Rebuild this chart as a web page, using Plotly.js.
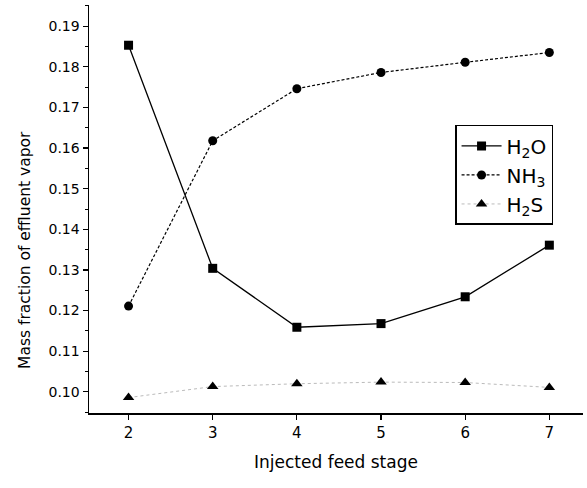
<!DOCTYPE html>
<html>
<head>
<meta charset="utf-8">
<script src="https://cdn.plot.ly/plotly-3.0.1.min.js"></script>
<style>html,body{margin:0;padding:0;background:#fff;}#chart{width:587px;height:488px;}</style>
</head>
<body>
<div id="chart"></div>
<script>
const stages = [2, 3, 4, 5, 6, 7];
const h2o = [0.1853, 0.1304, 0.1159, 0.1168, 0.1234, 0.1361];
const nh3 = [0.1211, 0.1618, 0.1746, 0.1786, 0.1811, 0.1835];
const h2s = [0.0986, 0.1013, 0.1020, 0.1024, 0.1023, 0.1011];
const names = ['H<sub>2</sub>O', 'NH<sub>3</sub>', 'H<sub>2</sub>S'];
const yTicks = [0.10, 0.11, 0.12, 0.13, 0.14, 0.15, 0.16, 0.17, 0.18, 0.19];
const yTickText = ['0.10', '0.11', '0.12', '0.13', '0.14', '0.15', '0.16', '0.17', '0.18', '0.19'];
const xTitle = 'Injected feed stage';
const yTitle = 'Mass fraction of effluent vapor';

const font = 'DejaVu Sans, sans-serif';

const traces = [
  {x: stages, y: h2o, name: names[0], mode: 'lines+markers',
   line: {color: '#000', width: 1.3, dash: 'solid'},
   marker: {symbol: 'square', size: 9, color: '#000'}},
  {x: stages, y: nh3, name: names[1], mode: 'lines+markers',
   line: {color: '#000', width: 1.2, dash: '3px,2px'},
   marker: {symbol: 'circle', size: 9, color: '#000'}},
  {x: stages, y: h2s, name: names[2], mode: 'lines+markers',
   line: {color: '#bbb', width: 1, dash: 'dot'},
   marker: {symbol: 'triangle-up', size: 10, color: '#000'}}
];

const layout = {
  width: 587, height: 488,
  margin: {l: 89, r: 4, t: 5, b: 75},
  paper_bgcolor: '#fff', plot_bgcolor: '#fff',
  font: {family: font, color: '#000', size: 14},
  showlegend: true,
  legend: {x: 0.741, y: 0.706, xanchor: 'left', yanchor: 'top',
           bordercolor: '#000', borderwidth: 1.5, bgcolor: '#fff',
           font: {size: 20, family: font}, tracegroupgap: 0, itemwidth: 40},
  xaxis: {range: [1.53, 7.4], tickvals: stages, ticktext: stages.map(String),
          showgrid: false, zeroline: false, showline: true, linecolor: '#000', linewidth: 1.5,
          ticks: 'outside', ticklen: 5, tickwidth: 1.2, tickcolor: '#000',
          tickfont: {size: 15, family: font},
          title: {text: xTitle, font: {size: 17, family: font}, standoff: 15}},
  yaxis: {range: [0.0948, 0.1952], tickvals: yTicks, ticktext: yTickText,
          showgrid: false, zeroline: false, showline: true, linecolor: '#000', linewidth: 1.5,
          ticks: 'outside', ticklen: 5, tickwidth: 1.2, tickcolor: '#000',
          minor: {dtick: 0.005, ticks: 'outside', ticklen: 3, tickwidth: 1, tickcolor: '#000'},
          tickfont: {size: 14, family: font}},
  annotations: [{text: yTitle, xref: 'paper', yref: 'paper', x: -0.1296, y: 0.3995,
                 xanchor: 'center', yanchor: 'middle', textangle: -90, showarrow: false,
                 font: {size: 15.5, family: font, color: '#000'}}]
};

Plotly.newPlot('chart', traces, layout, {displayModeBar: false, staticPlot: true});
</script>
</body>
</html>
